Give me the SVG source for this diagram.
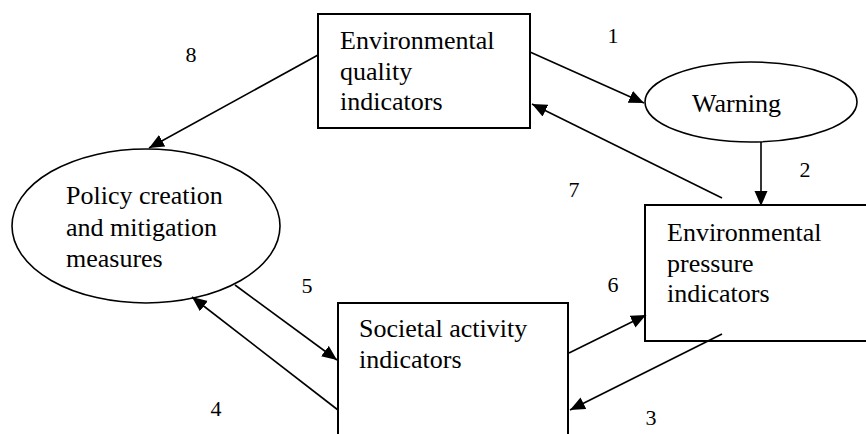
<svg xmlns="http://www.w3.org/2000/svg" width="866" height="434" viewBox="0 0 866 434">
  <style>
    .box { fill: #ffffff; stroke: #000000; stroke-width: 2; }
    .oval { fill: #ffffff; stroke: #000000; stroke-width: 1.6; }
    .lbl { font-size: 26px; }
    .num { font-size: 22px; text-anchor: middle; }
    .edge { stroke: #000000; stroke-width: 1.6; fill: none; marker-end: url(#head); }
  </style>
  <defs>
    <marker id="head" markerUnits="userSpaceOnUse" markerWidth="16" markerHeight="14" refX="15" refY="6.5" orient="auto">
      <path d="M0,0 L15,6.5 L0,13 z" fill="#000000"/>
    </marker>
  </defs>
  <rect width="866" height="434" fill="#ffffff"/>

  <g font-family="Liberation Serif, DejaVu Serif, serif" fill="#000000">
  <!-- nodes -->
  <g id="quality-indicators">
    <rect class="box" x="318" y="14" width="212" height="114"/>
    <text class="lbl" x="340" y="49">Environmental</text>
    <text class="lbl" x="340" y="80">quality</text>
    <text class="lbl" x="340" y="110">indicators</text>
  </g>

  <g id="warning">
    <ellipse class="oval" cx="751" cy="102" rx="106" ry="40"/>
    <text class="lbl" x="692" y="112">Warning</text>
  </g>

  <g id="pressure-indicators">
    <rect class="box" x="645" y="205" width="240" height="136"/>
    <text class="lbl" x="667" y="241">Environmental</text>
    <text class="lbl" x="667" y="272">pressure</text>
    <text class="lbl" x="667" y="302">indicators</text>
  </g>

  <g id="policy-measures">
    <ellipse class="oval" cx="146" cy="226" rx="134" ry="77"/>
    <text class="lbl" x="66" y="204">Policy creation</text>
    <text class="lbl" x="66" y="236">and mitigation</text>
    <text class="lbl" x="66" y="267">measures</text>
  </g>

  <g id="societal-indicators">
    <rect class="box" x="338" y="303" width="230" height="160"/>
    <text class="lbl" x="359" y="337">Societal activity</text>
    <text class="lbl" x="359" y="368">indicators</text>
  </g>

  <!-- connectors -->
  <g id="connectors">
    <line class="edge" x1="530" y1="52" x2="644" y2="103"/>
    <line class="edge" x1="761" y1="142" x2="761" y2="206"/>
    <line class="edge" x1="722" y1="334" x2="570" y2="410"/>
    <line class="edge" x1="338" y1="410" x2="192" y2="297"/>
    <line class="edge" x1="235" y1="285" x2="337" y2="360"/>
    <line class="edge" x1="569" y1="353" x2="646" y2="315"/>
    <line class="edge" x1="722" y1="198" x2="532" y2="104"/>
    <line class="edge" x1="318" y1="55" x2="149" y2="148"/>
  </g>

  <!-- step numbers -->
  <g id="step-numbers">
    <text class="num" x="613" y="43">1</text>
    <text class="num" x="805" y="177">2</text>
    <text class="num" x="651" y="425">3</text>
    <text class="num" x="216" y="416">4</text>
    <text class="num" x="307" y="293">5</text>
    <text class="num" x="613" y="292">6</text>
    <text class="num" x="574" y="197">7</text>
    <text class="num" x="191" y="62">8</text>
  </g>
  </g>
</svg>
